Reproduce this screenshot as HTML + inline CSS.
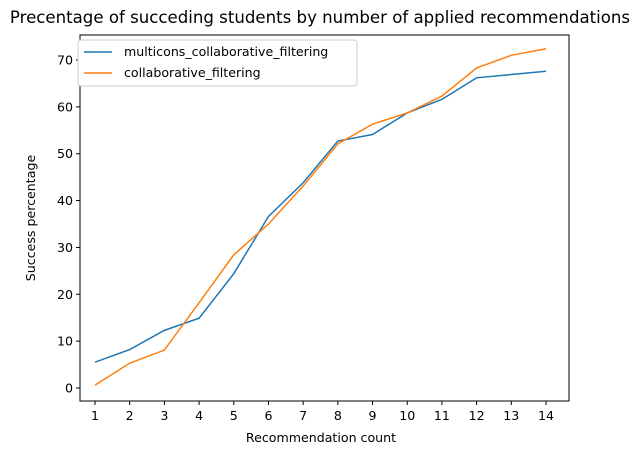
<!DOCTYPE html>
<html><head><meta charset="utf-8"><style>
body{margin:0;background:#fff;font-family:"Liberation Sans","DejaVu Sans",sans-serif}
svg text{font-family:"DejaVu Sans","Liberation Sans",sans-serif}
</style></head><body>
<svg id="chart" width="640" height="455">
<text x="320" y="23" font-size="16.6" text-anchor="middle">Precentage of succeding students by number of applied recommendations</text>
<rect x="80" y="35" width="489" height="366" fill="none" stroke="#000" stroke-width="1"/>
<g id="xt"></g>
<g id="yt"></g>
<g id="lines"></g>
<text x="321" y="442" font-size="12.6" text-anchor="middle">Recommendation count</text>
<text x="35" y="218" font-size="12.6" text-anchor="middle" transform="rotate(-90 35 218)">Success percentage</text>
<g>
<rect x="78" y="40" width="279" height="46" rx="3" fill="#fff" stroke="#ccc"/>
<line x1="84" y1="52" x2="112" y2="52" stroke="#1f77b4" stroke-width="1.5"/>
<text x="124" y="56" font-size="12.6">multicons_collaborative_filtering</text>
<line x1="84" y1="73" x2="112" y2="73" stroke="#ff7f0e" stroke-width="1.5"/>
<text x="124" y="77" font-size="12.6">collaborative_filtering</text>
</g>
</svg>
<script>
const categories=[1,2,3,4,5,6,7,8,9,10,11,12,13,14];
const multiconsValues=[5.5,8.2,12.3,14.9,24.4,36.6,43.8,52.7,54.1,58.7,61.6,66.2,66.9,67.6];
const cfValues=[0.6,5.3,8.1,18.2,28.4,35.0,43.1,52.1,56.3,58.7,62.3,68.3,71.0,72.4];
const yTicks=[0,10,20,30,40,50,60,70];
const NS="http://www.w3.org/2000/svg";
const x=v=>95+(v-1)*(546-95)/13;
const y=v=>388-v*(388-60)/70;
function mk(t,a,p){const e=document.createElementNS(NS,t);for(const k in a)e.setAttribute(k,a[k]);p.appendChild(e);return e;}
const xt=document.getElementById('xt'),yt=document.getElementById('yt'),lg=document.getElementById('lines');
categories.forEach(c=>{
 const l=mk('line',{x1:x(c),x2:x(c),y1:401,y2:405,stroke:'#000'},xt);
 
 
 const t=mk('text',{x:x(c),y:420,'font-size':12.6,'text-anchor':'middle'},xt);t.textContent=c;
 
 
});
yTicks.forEach(v=>{
 const l=mk('line',{x1:76,x2:80,y1:y(v),y2:y(v),stroke:'#000'},yt);
 
 
 const t=mk('text',{x:73,y:y(v)+4.5,'font-size':12.6,'text-anchor':'end'},yt);t.textContent=v;
 
 
});
function line(vals,color,name){
 const p=mk('polyline',{points:vals.map((v,i)=>x(categories[i])+','+y(v)).join(' '),fill:'none',stroke:color,'stroke-width':1.5},lg);
 
 
}
line(multiconsValues,'#1f77b4','multicons-line');
line(cfValues,'#ff7f0e','collaborative-filtering-line');
</script>
</body></html>
